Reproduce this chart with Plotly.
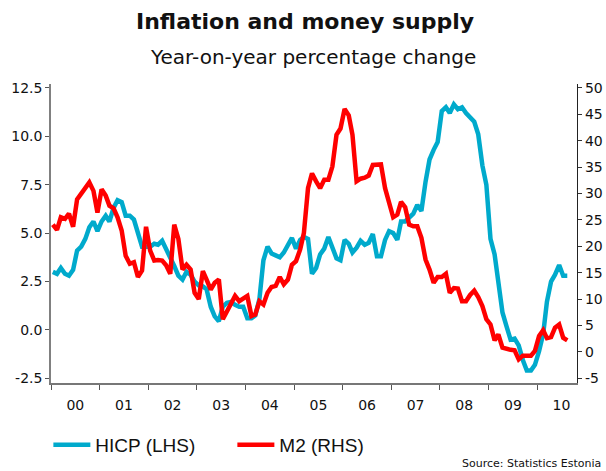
import pandas as pd
import plotly.graph_objects as go

# Monthly data, Jan 2000 - Aug 2010
start_month = "2000-01-01"
hicp = [
    3.0, 2.9, 3.2, 2.9, 2.8, 3.1, 4.1, 4.3, 4.7, 5.3, 5.6, 5.1,
    5.6, 5.9, 5.6, 6.3, 6.7, 6.6, 5.9, 5.9, 5.7, 5.0, 4.3, 4.3,
    4.3, 4.45, 4.4, 4.6, 4.2, 3.8, 3.3, 2.8, 2.6, 3.0, 2.85, 2.5,
    2.3, 2.25, 2.1, 1.2, 0.7, 0.45, 1.2, 1.4, 1.45, 1.3, 1.2, 1.2,
    0.6, 0.6, 0.75, 1.6, 3.6, 4.3, 3.95, 3.85, 3.75, 4.0, 4.35, 4.75,
    4.2, 4.65, 4.8, 4.7, 2.9, 3.2, 3.9, 4.2, 4.8, 4.25, 3.7, 3.6,
    4.65, 4.45, 4.0, 4.25, 4.6, 4.4, 4.5, 4.95, 3.8, 3.8, 4.65, 5.1,
    5.0, 4.65, 5.6, 5.6, 5.8, 6.0, 6.45, 6.15, 7.65, 8.8, 9.3, 9.7,
    11.3, 11.5, 11.2, 11.65, 11.4, 11.5, 11.2, 11.0, 10.75, 10.1, 8.5, 7.5,
    4.7, 3.9, 2.5, 0.9, 0.2, -0.5, -0.45, -0.8, -1.55, -2.1, -2.1, -1.8,
    -1.1, -0.2, 1.45, 2.5, 2.85, 3.35, 2.8, 2.8,
]
m2 = [
    24.1, 23.1, 25.5, 25.2, 26.2, 23.7, 28.9, 29.9, 30.8, 32.1, 30.5, 26.4,
    30.8, 29.6, 27.7, 27.2, 25.5, 23.0, 18.2, 16.7, 17.0, 14.2, 15.4, 23.7,
    19.2, 17.3, 17.4, 17.3, 16.4, 14.8, 24.1, 21.4, 15.6, 16.5, 15.6, 11.2,
    10.0, 15.3, 13.7, 11.8, 13.1, 13.7, 6.2, 7.7, 9.6, 10.6, 9.6, 10.0,
    10.6, 6.8, 7.1, 9.6, 9.0, 11.2, 12.3, 12.5, 14.2, 12.8, 13.7, 16.5,
    17.2, 19.4, 22.5, 31.0, 33.8, 32.3, 31.0, 32.6, 32.6, 35.1, 41.1, 42.3,
    46.0, 44.8, 41.1, 32.3, 32.8, 33.0, 33.4, 35.4, 35.4, 35.5, 31.0, 27.9,
    25.5, 26.0, 28.4, 27.4, 24.1, 23.8, 23.8, 21.6, 17.5, 15.6, 13.1, 14.2,
    14.2, 14.8, 11.2, 12.1, 12.0, 9.6, 9.6, 10.8, 11.6, 10.4, 8.7, 6.2,
    5.2, 2.2, 3.3, 0.8, 0.5, 0.4, 0.3, -1.4, -0.7, -0.7, -0.7, 0.2,
    3.0, 4.1, 2.6, 2.8, 4.6, 5.2, 2.7, 2.2,
]
left_ticks = [-2.5, 0.0, 2.5, 5.0, 7.5, 10.0, 12.5]
left_labels = ["-2.5", "0.0", "2.5", "5.0", "7.5", "10.0", "12.5"]
right_ticks = [-5, 0, 5, 10, 15, 20, 25, 30, 35, 40, 45, 50]
right_labels = ["-5", "0", "5", "10", "15", "20", "25", "30", "35", "40", "45", "50"]

dates = pd.date_range(start_month, periods=len(hicp), freq="MS") + pd.Timedelta(days=14)

BLUE = "#00AACC"
RED = "#FF0000"
FONT = "DejaVu Sans"

fig = go.Figure()
fig.add_trace(go.Scatter(x=dates, y=hicp, name="HICP (LHS)", mode="lines",
                         line=dict(color=BLUE, width=4.5)))
fig.add_trace(go.Scatter(x=dates, y=m2, name="M2 (RHS)", mode="lines", yaxis="y2",
                         line=dict(color=RED, width=4.5)))

lmin, lmax = -2.74, 12.7
def l2r(v):
    return -5 + (v + 2.5) * 11 / 3

fig.update_layout(
    width=606, height=471,
    margin=dict(l=51, r=29, t=84, b=88, autoexpand=False),
    paper_bgcolor="white", plot_bgcolor="white",
    font=dict(family=FONT, size=14, color="#111111"),
    showlegend=True,
    legend=dict(orientation="h", x=-0.005, xanchor="left", y=-0.207, yanchor="middle",
                font=dict(family="Liberation Sans", size=19, color="#111111"),
                itemwidth=37, entrywidth=132, entrywidthmode="pixels"),
    xaxis=dict(type="date", range=["2000-01-01", "2010-10-27"],
               tick0="2000-01-01", dtick="M12", tickformat="%y",
               ticklabelmode="period", ticks="outside", ticklen=5, tickcolor="#555555",
               showline=True, linecolor="#777777", linewidth=1.5,
               showgrid=False, zeroline=False, ticklabelstandoff=3, automargin=False),
    yaxis=dict(range=[lmin, lmax], tickvals=left_ticks, ticktext=left_labels,
               ticks="outside", ticklen=4, tickcolor="#555555",
               showline=True, linecolor="#808080", linewidth=1.5,
               showgrid=False, zeroline=False, automargin=False),
    yaxis2=dict(range=[l2r(lmin), l2r(lmax)], tickvals=right_ticks, ticktext=right_labels,
                overlaying="y", side="right", ticks="outside", ticklen=4, tickcolor="#333333",
                showline=True, linecolor="#222222", linewidth=1.2,
                showgrid=False, zeroline=False, automargin=False),
    annotations=[
        dict(text="<b>Inflation and money supply</b>", xref="paper", yref="paper",
             x=(305 - 51) / 526, y=(383 - 22) / 299, xanchor="center", yanchor="middle",
             showarrow=False, font=dict(family=FONT, size=22, color="#111111")),
        dict(text="Year-on-year percentage change", xref="paper", yref="paper",
             x=(313 - 51) / 526, y=(383 - 57) / 299, xanchor="center", yanchor="middle",
             showarrow=False, font=dict(family=FONT, size=20, color="#111111")),
        dict(text="Source: Statistics Estonia", xref="paper", yref="paper",
             x=(603 - 51) / 526, y=(383 - 463) / 299, xanchor="right", yanchor="middle",
             showarrow=False, font=dict(family=FONT, size=11, color="#111111")),
    ],
)

fig.write_html("out.html", config={"displayModeBar": False},
               post_script="document.body.style.margin='0';")
